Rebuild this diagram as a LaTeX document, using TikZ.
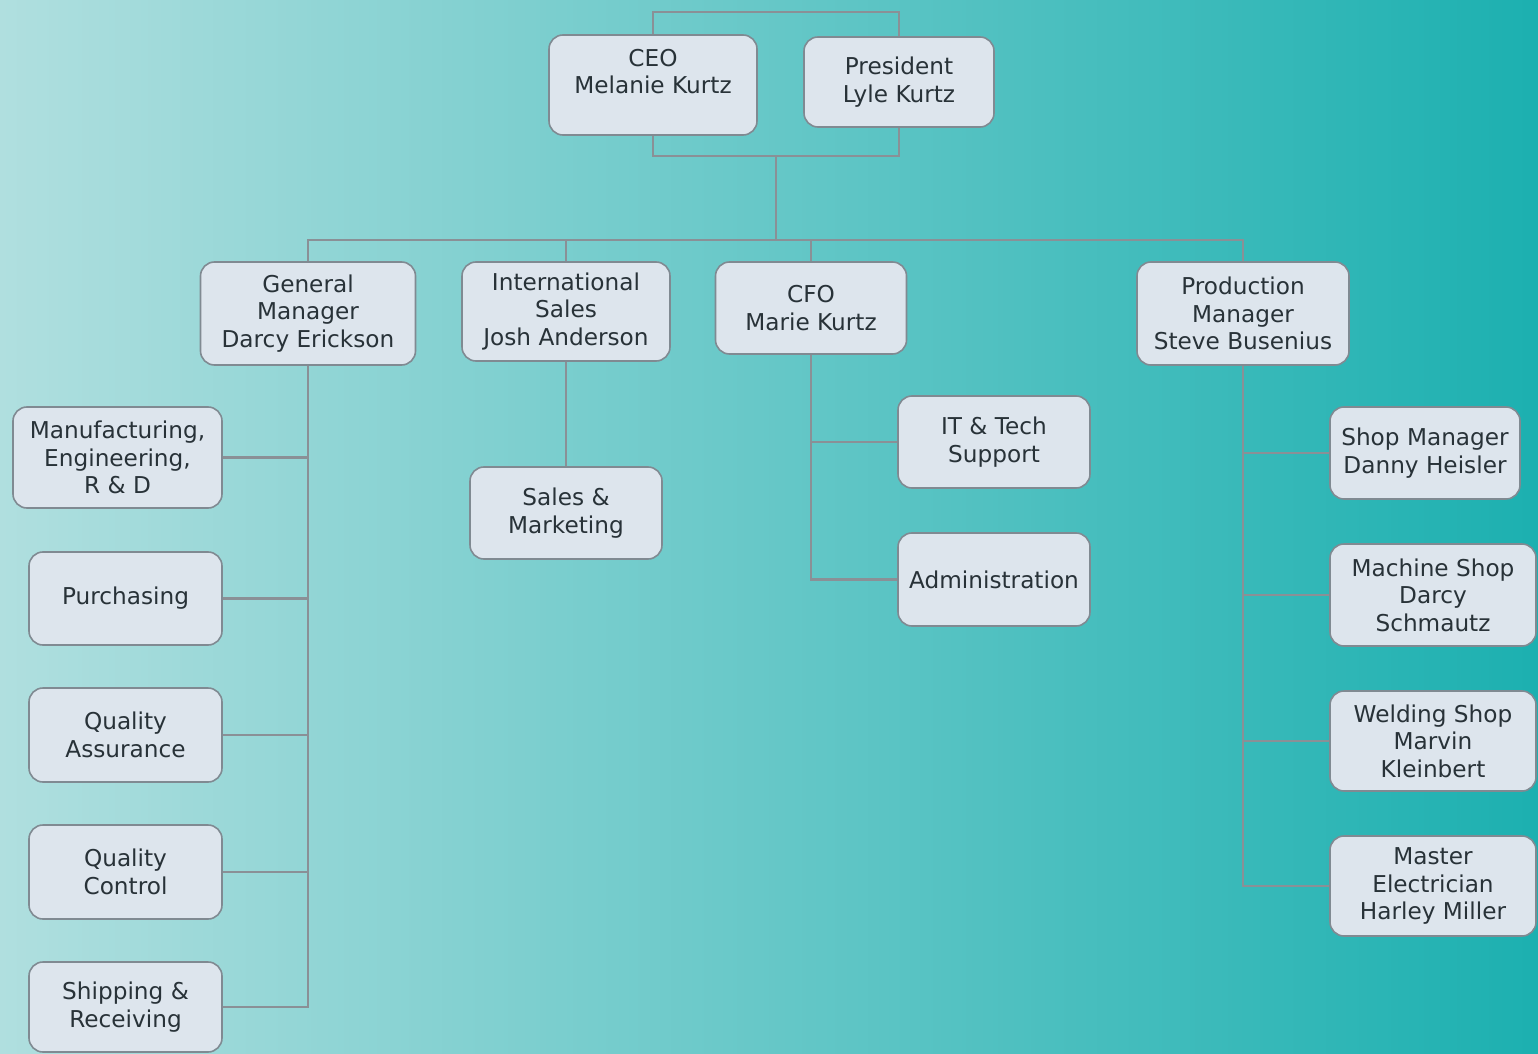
\documentclass[tikz,border=0pt]{standalone}
\usepackage{fontspec}
\setmainfont{DejaVu Sans}
\definecolor{bgL}{RGB}{176,223,223}
\definecolor{bgM}{RGB}{108,198,202}
\definecolor{bgR}{RGB}{28,176,176}
\definecolor{boxfill}{RGB}{221,229,237}
\definecolor{boxline}{RGB}{128,138,146}
\definecolor{conn}{RGB}{138,144,150}
\definecolor{txt}{RGB}{40,50,56}
\tikzset{
  box/.style={draw=boxline, line width=0.8pt, fill=boxfill, rounded corners=7pt,
    align=center, inner sep=0pt, text=txt,
    font=\fontsize{11.6}{13.8}\selectfont},
  link/.style={draw=conn, line width=1.1pt}
}
\begin{document}
\begin{tikzpicture}[x=0.5pt,y=-0.5pt]
\useasboundingbox (0,0) rectangle (1538,1054);
\shade[left color=bgL, middle color=bgM, right color=bgR] (0,0) rectangle (1538,1054);

% top level
\node[box, minimum width=104pt, minimum height=50pt] (ceo) at (653,85) {CEO\\Melanie Kurtz\\\mbox{}};
\node[box, minimum width=95pt, minimum height=45pt] (pres) at (899,82) {President\\Lyle Kurtz};

% second level
\node[box, minimum width=107.5pt, minimum height=51.5pt] (gm) at (308,313.5) {General\\Manager\\Darcy Erickson};
\node[box, minimum width=104pt, minimum height=49.5pt] (intl) at (566,311.5) {International\\Sales\\Josh Anderson};
\node[box, minimum width=95.5pt, minimum height=46pt] (cfo) at (811,308) {CFO\\Marie Kurtz};
\node[box, minimum width=106pt, minimum height=51.5pt] (prod) at (1243,313.5) {Production\\Manager\\Steve Busenius};

% GM children
\node[box, minimum width=104.5pt, minimum height=50.5pt] (mfg) at (117.5,457.5) {Manufacturing,\\Engineering,\\R \& D};
\node[box, minimum width=96.5pt, minimum height=46.5pt] (purch) at (125.5,598.5) {Purchasing};
\node[box, minimum width=96.5pt, minimum height=47pt] (qa) at (125.5,735) {Quality\\Assurance};
\node[box, minimum width=96.5pt, minimum height=47pt] (qc) at (125.5,872) {Quality\\Control};
\node[box, minimum width=96.5pt, minimum height=45pt] (ship) at (125.5,1007) {Shipping \&\\Receiving};

% Intl child
\node[box, minimum width=96pt, minimum height=46pt] (sm) at (566,513) {Sales \&\\Marketing};

% CFO children
\node[box, minimum width=96pt, minimum height=46pt] (it) at (994,442) {IT \& Tech\\Support};
\node[box, minimum width=96pt, minimum height=46.5pt] (admin) at (994,579.5) {Administration};

% Production children
\node[box, minimum width=95pt, minimum height=46pt] (shop) at (1425,453) {Shop Manager\\Danny Heisler};
\node[box, minimum width=103pt, minimum height=51pt] (mach) at (1433,595) {Machine Shop\\Darcy\\Schmautz};
\node[box, minimum width=103pt, minimum height=50pt] (weld) at (1433,741) {Welding Shop\\Marvin\\Kleinbert};
\node[box, minimum width=103pt, minimum height=50pt] (master) at (1433,886) {Master\\Electrician\\Harley Miller};

% connectors
\coordinate (topline) at (776,12);
\coordinate (hub) at (776,156);
\coordinate (bar) at (776,240);
\draw[link] (ceo.north) |- (topline) -| (pres.north);
\draw[link] (ceo.south) |- (hub) -| (pres.south);
\draw[link] (hub) -- (bar);
\draw[link] (gm.north) |- (bar) -| (prod.north);
\draw[link] (intl.north) -- (intl.north |- bar);
\draw[link] (cfo.north) -- (cfo.north |- bar);

\draw[link] (gm.south) |- (ship.east);
\draw[link] (mfg.east) -- (mfg.east -| gm.south);
\draw[link] (purch.east) -- (purch.east -| gm.south);
\draw[link] (qa.east) -- (qa.east -| gm.south);
\draw[link] (qc.east) -- (qc.east -| gm.south);

\draw[link] (intl.south) -- (sm.north);

\draw[link] (cfo.south) |- (admin.west);
\draw[link] (it.west) -- (it.west -| cfo.south);

\draw[link] (prod.south) |- (master.west);
\draw[link] (shop.west) -- (shop.west -| prod.south);
\draw[link] (mach.west) -- (mach.west -| prod.south);
\draw[link] (weld.west) -- (weld.west -| prod.south);
\end{tikzpicture}
\end{document}
